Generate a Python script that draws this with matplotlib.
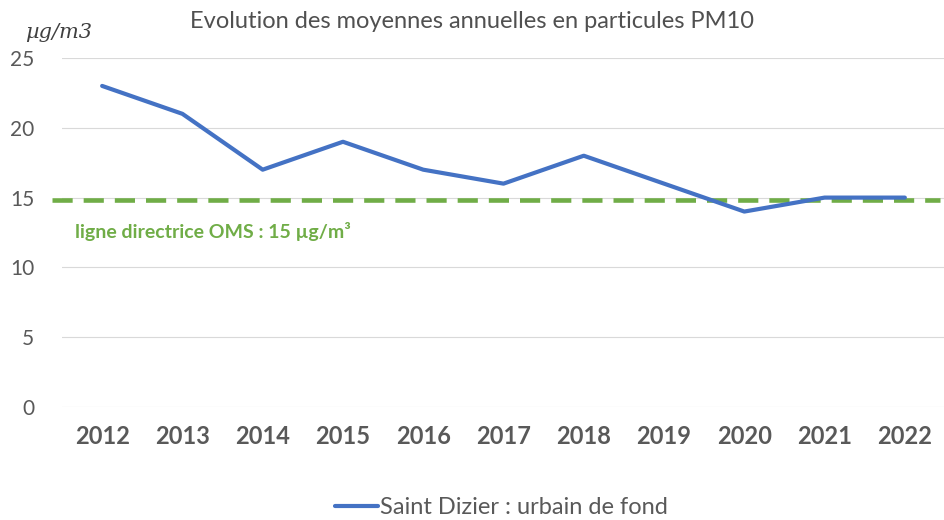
import matplotlib
matplotlib.use("Agg")
import matplotlib.pyplot as plt

# Data
years = ["2012", "2013", "2014", "2015", "2016", "2017", "2018", "2019", "2020", "2021", "2022"]
pm10 = [23, 21, 17, 19, 17, 16, 18, 16, 14, 15, 15]
oms_level = 14.8

plt.rcParams['font.family'] = ['Lato', 'DejaVu Sans']

fig = plt.figure(figsize=(9.45, 5.2), dpi=100)
ax = fig.add_axes([62/945, 1 - 407/520, 883/945, (407 - 58)/520])

x = range(len(years))
ax.plot(x, pm10, color='#4472C4', linewidth=3, solid_capstyle='round',
        label='Saint Dizier : urbain de fond', zorder=3)

# OMS guideline
ax.axhline(oms_level, xmin=-0.011, xmax=0.994, color='#70AD47', linewidth=3.3,
           linestyle=(0, (4.4, 2.4)), clip_on=False, zorder=2)
ax.text(-0.34, 12.6, 'ligne directrice OMS : 15 µg/m³', color='#70AD47',
        fontsize=14, fontweight='bold', va='center', ha='left')

ax.set_xlim(-0.5, 10.5)
ax.set_ylim(0, 25)
ax.set_yticks([0, 5, 10, 15, 20, 25])
ax.set_xticks(list(x))
ax.set_xticklabels(years, fontsize=17, fontweight='bold', color='#595959')
ax.tick_params(axis='y', labelsize=15, colors='#595959', length=0, pad=20)
ax.tick_params(axis='x', length=0, pad=13)
ax.grid(axis='y', color='#D9D9D9', linewidth=0.8)
ax.set_axisbelow(True)
for s in ax.spines.values():
    s.set_visible(False)

fig.text(0.5, 0.958, 'Evolution des moyennes annuelles en particules PM10',
         ha='center', va='center', fontsize=17, color='#505050')
fig.text(25/945, 1 - 33/520, 'µg/m3', family='DejaVu Serif', style='italic',
         fontsize=15, color='#404040', va='center', ha='left')

fig.legend(loc='center', bbox_to_anchor=(0.531, 1 - 508/520), frameon=False,
           fontsize=17, labelcolor='#595959', handlelength=1.8, handletextpad=0.1)

fig.savefig('out.png', dpi=100)
